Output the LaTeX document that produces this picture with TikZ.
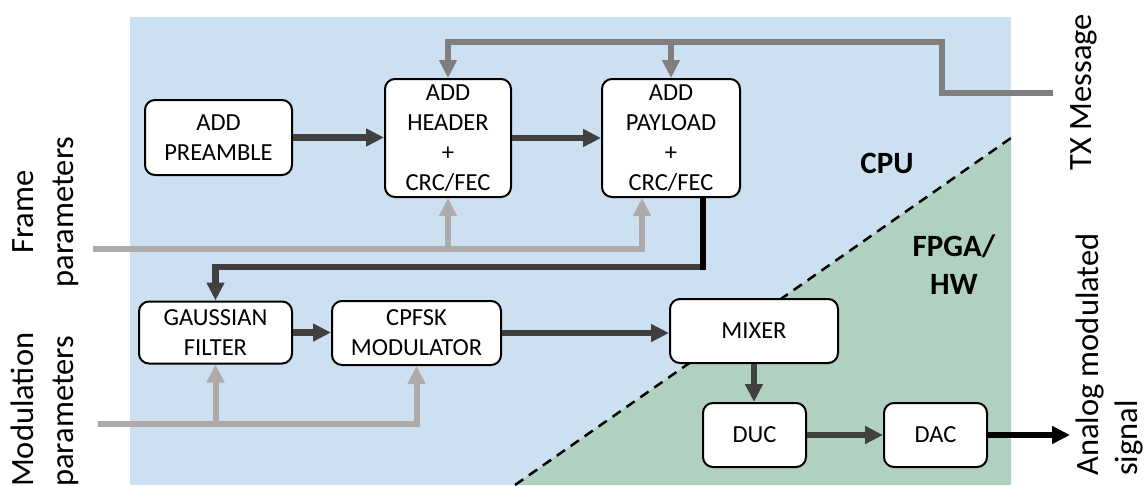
\documentclass[tikz,border=0pt]{standalone}
\usepackage{fontspec}
\setmainfont{Carlito}
\usetikzlibrary{arrows.meta}
\definecolor{bgblue}{RGB}{205,224,241}
\definecolor{bggreen}{RGB}{176,209,191}
\definecolor{darkline}{RGB}{64,64,64}
\definecolor{txgray}{RGB}{127,127,127}
\definecolor{pargray}{RGB}{174,170,170}
\tikzset{
  blk/.style={draw=black, line width=2pt, fill=white, rounded corners=10pt,
    align=center, inner sep=0pt, font=\fontsize{24.5}{30}\selectfont},
  arrowtip/.style={-{Triangle[length=18pt,width=17pt]}},
  dataflow/.style={draw=darkline, line width=6.5pt, arrowtip},
  txline/.style={draw=txgray, line width=6.5pt, arrowtip},
  parline/.style={draw=pargray, line width=6pt, arrowtip},
  sidelbl/.style={rotate=90, inner sep=0pt, font=\fontsize{32.5}{39}\selectfont},
  zonelbl/.style={align=center, inner sep=0pt, font=\bfseries\fontsize{31}{38}\selectfont},
}
\begin{document}
\begin{tikzpicture}[x=1pt,y=-1pt]
\useasboundingbox (0,0) rectangle (1144,485);
% zones
\fill[bgblue] (129.5,17) rectangle (1011,485);
\fill[bggreen] (515,485) -- (1011,138) -- (1011,485) -- cycle;
\draw[black, line width=2.5pt, dash pattern=on 10pt off 7pt] (515,485) -- (1011,138);
\node[zonelbl] (cpu) at (887,163) {CPU};
\node[zonelbl] (fpga) at (954,265) {FPGA/\\HW};
% blocks
\node[blk, minimum width=147pt, minimum height=75pt] (pre) at (218.5,137.5) {ADD\\PREAMBLE};
\node[blk, minimum width=126pt, minimum height=118pt] (hdr) at (448,138) {ADD\\HEADER\\+\\CRC/FEC};
\node[blk, minimum width=138pt, minimum height=118pt] (pay) at (671,138) {ADD\\PAYLOAD\\+\\CRC/FEC};
\node[blk, minimum width=153pt, minimum height=62pt] (gau) at (215.5,332.5) {GAUSSIAN\\FILTER};
\node[blk, minimum width=169pt, minimum height=64pt] (cpf) at (416.5,333) {CPFSK\\MODULATOR};
\node[blk, minimum width=168pt, minimum height=64pt] (mix) at (754,331) {MIXER};
\node[blk, minimum width=103pt, minimum height=64pt] (duc) at (754.5,435) {DUC};
\node[blk, minimum width=103pt, minimum height=64pt] (dac) at (935.5,435) {DAC};
% side labels
\node[sidelbl, anchor=base] (frame1) at (34,212) {Frame};
\node[sidelbl, anchor=base] (frame2) at (73,212) {parameters};
\node[sidelbl, anchor=base west] (mod1) at (34,487) {Modulation};
\node[sidelbl, anchor=base west] (mod2) at (73,487) {parameters};
\node[sidelbl, anchor=base] (txmsg) at (1091,92) {TX Message};
\node[sidelbl, anchor=base west] (ana1) at (1098,476) {Analog modulated};
\node[sidelbl, anchor=base west] (ana2) at (1137,476) {signal};
% connector coordinates
\coordinate (txin) at (1053,93);
\coordinate (txa) at (942,93);
\coordinate (txb) at (942,42);
\coordinate (fin) at (93,249);
\coordinate (fj) at (642,249);
\coordinate (min) at (98,424);
\coordinate (pj) at (703,267);
\coordinate (out) at (1070,435);
% TX message
\draw[txline] (txin) -- (txa) -- (txb) -| (hdr.north);
\draw[txline] (txb -| pay.north) -- (pay.north);
% frame parameters
\draw[parline] (fin) -- (fj) -- (fj |- pay.south);
\draw[parline] (fin -| hdr.south) -- (hdr.south);
% modulation parameters
\draw[parline] (min) -| (cpf.south);
\draw[parline] (min -| gau.south) -- (gau.south);
% data flow
\draw[dataflow] (pre.east) -- (pre.east -| hdr.west);
\draw[dataflow] (hdr.east) -- (pay.west);
\draw[dataflow] (pay.south -| pj) -- (pj) -| (gau.north);
\draw[black, line width=6.5pt] (pay.south -| pj) -- ([yshift=-3.25pt]pj);
\draw[dataflow] (gau.east) -- (gau.east -| cpf.west);
\draw[dataflow] (cpf.east) -- (cpf.east -| mix.west);
\draw[dataflow] (mix.south) -- (mix.south |- duc.north);
\draw[dataflow] (duc.east) -- (dac.west);
\draw[black, line width=6.5pt, arrowtip] (dac.east) -- (out);
\end{tikzpicture}
\end{document}
